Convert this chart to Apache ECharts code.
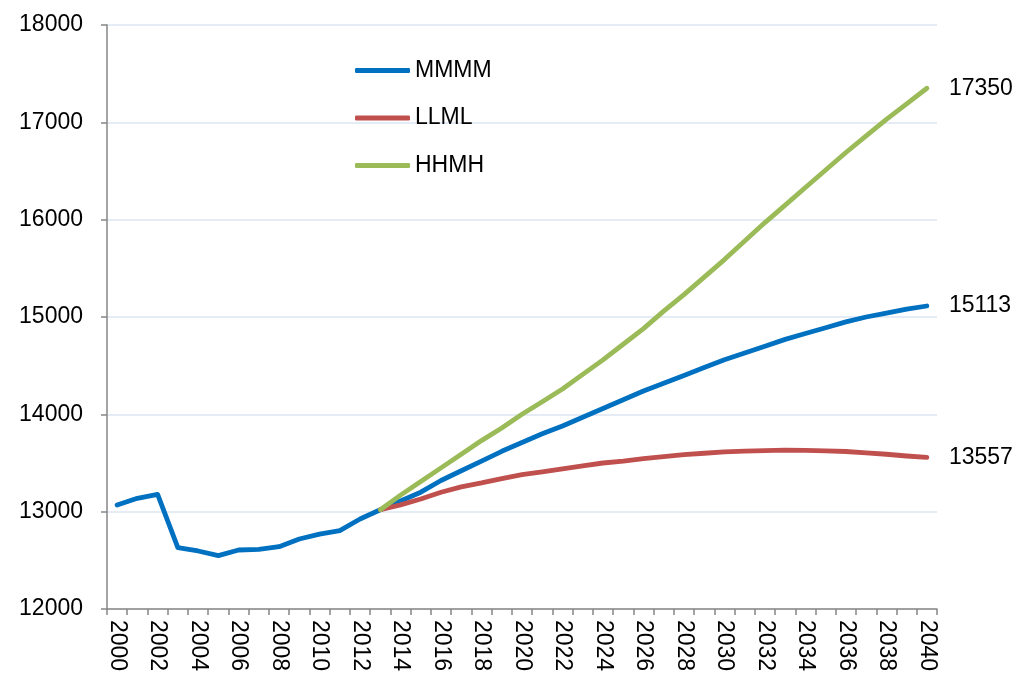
<!DOCTYPE html>
<html>
<head>
<meta charset="utf-8">
<script src="https://cdn.jsdelivr.net/npm/echarts@6/dist/echarts.min.js"></script>
<style>
html,body{margin:0;padding:0;background:#fff;}
#chart{width:1023px;height:684px;}
</style>
</head>
<body>
<div id="chart"></div>
<script>
const years = [];
for (let y = 2000; y <= 2040; y++) years.push(String(y));

const mmmm = [13068, 13137, 13178, 12630, 12596, 12548, 12606, 12613, 12640, 12719,
  12770, 12805, 12925, 13020, 13110, 13200, 13320, 13420, 13520, 13620,
  13710, 13800, 13880, 13970, 14060, 14150, 14240, 14320, 14400, 14480,
  14560, 14630, 14700, 14770, 14830, 14890, 14950, 15000, 15040, 15080, 15113];

const llml = [null, null, null, null, null, null, null, null, null, null,
  null, null, null, 13020, 13070, 13130, 13200, 13255, 13295, 13340,
  13380, 13410, 13440, 13470, 13500, 13520, 13545, 13565, 13585, 13600,
  13615, 13622, 13628, 13632, 13630, 13625, 13618, 13605, 13590, 13572, 13557];

const hhmh = [null, null, null, null, null, null, null, null, null, null,
  null, null, null, 13020, 13170, 13310, 13450, 13590, 13730, 13860,
  14000, 14130, 14260, 14410, 14560, 14720, 14880, 15060, 15230, 15410,
  15590, 15780, 15970, 16150, 16330, 16510, 16690, 16860, 17030, 17190, 17350];

const seriesNames = ['MMMM', 'LLML', 'HHMH'];
const colors = ['#0070C0', '#C0504D', '#9BBB59'];
const yTicks = [12000, 13000, 14000, 15000, 16000, 17000, 18000];

const font = '"Liberation Sans", Arial, sans-serif';
const fs = 23;
const chart = echarts.init(document.getElementById('chart'));

function mk(name, data, color) {
  return {
    name: name,
    type: 'line',
    data: data,
    symbol: 'none',
    showSymbol: false,
    connectNulls: false,
    smooth: false,
    lineStyle: { color: color, width: 4.8, cap: 'round', join: 'round' },
    itemStyle: { color: color },
    emphasis: { disabled: true },
    endLabel: {
      show: true,
      formatter: function (p) { return String(p.value); },
      color: '#000',
      fontFamily: font,
      fontSize: fs,
      distance: 22
    }
  };
}

chart.setOption({
  animation: false,
  backgroundColor: '#fff',
  grid: { left: 107, right: 86, top: 25, bottom: 75 },
  legend: {
    orient: 'vertical',
    left: 350,
    top: 54,
    itemWidth: 55,
    itemHeight: 5,
    itemGap: 24.5,
    icon: 'roundRect',
    textStyle: { color: '#000', fontFamily: font, fontSize: fs, lineHeight: 23, padding: 0 },
    data: seriesNames
  },
  xAxis: {
    type: 'category',
    data: years,
    boundaryGap: true,
    axisLine: { lineStyle: { color: '#868686', width: 1.5 } },
    axisTick: { show: true, interval: 0, length: 6, lineStyle: { color: '#868686', width: 1.5 } },
    axisLabel: {
      interval: 1,
      rotate: -90,
      margin: 11,
      color: '#000',
      fontFamily: font,
      fontSize: fs
    },
    splitLine: { show: false }
  },
  yAxis: {
    type: 'value',
    min: yTicks[0],
    max: yTicks[yTicks.length - 1],
    interval: 1000,
    axisLine: { show: true, lineStyle: { color: '#868686', width: 1.5 } },
    axisTick: { show: true, length: 6, lineStyle: { color: '#868686', width: 1.5 } },
    axisLabel: { color: '#000', fontFamily: font, fontSize: fs, margin: 24, formatter: function (v) { return String(v); } },
    splitLine: { show: true, lineStyle: { color: '#DCE6F2', width: 1.5 } }
  },
  series: [
    mk(seriesNames[0], mmmm, colors[0]),
    mk(seriesNames[1], llml, colors[1]),
    mk(seriesNames[2], hhmh, colors[2])
  ]
});
</script>
</body>
</html>
